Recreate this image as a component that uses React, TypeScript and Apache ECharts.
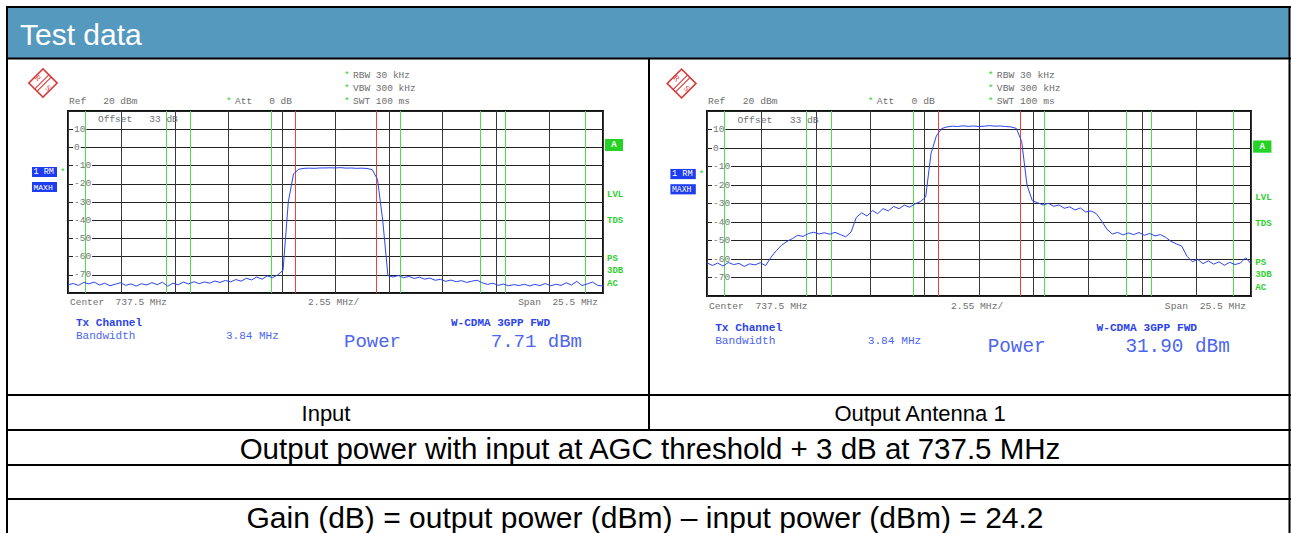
import React, { useEffect, useRef } from 'react';
import * as echarts from 'echarts';

// Sweep points: frequency offset from centre (737.5 MHz), MHz
const sweepOffsetsMHz = [
  -12.75, -12.5, -12.25, -12, -11.75, -11.5, -11.25, -11, -10.75, -10.5,
  -10.25, -10, -9.75, -9.5, -9.25, -9, -8.75, -8.5, -8.25, -8,
  -7.75, -7.5, -7.25, -7, -6.75, -6.5, -6.25, -6, -5.75, -5.5,
  -5.25, -5, -4.75, -4.5, -4.25, -4, -3.75, -3.5, -3.25, -3,
  -2.75, -2.5, -2.25, -2, -1.75, -1.5, -1.25, -1, -0.75, -0.5,
  -0.25, 0, 0.25, 0.5, 0.75, 1, 1.25, 1.5, 1.75, 2,
  2.25, 2.5, 2.75, 3, 3.25, 3.5, 3.75, 4, 4.25, 4.5,
  4.75, 5, 5.25, 5.5, 5.75, 6, 6.25, 6.5, 6.75, 7,
  7.25, 7.5, 7.75, 8, 8.25, 8.5, 8.75, 9, 9.25, 9.5,
  9.75, 10, 10.25, 10.5, 10.75, 11, 11.25, 11.5, 11.75, 12,
  12.25, 12.5, 12.75,
];

// Input trace, dBm
const inputLevels = [
  -75.5, -74.8, -75.8, -74.2, -75.0, -74.0, -75.6, -74.6, -76.0, -75.2,
  -74.4, -75.8, -75.0, -76.2, -74.9, -75.6, -74.3, -75.4, -74.1, -76.3,
  -74.6, -75.5, -74.0, -75.0, -73.8, -74.9, -73.9, -74.6, -73.4, -74.2,
  -73.1, -73.9, -72.6, -73.5, -71.9, -72.8, -71.2, -72.4, -70.6, -71.6,
  -70.0, -67.5, -30.0, -14.5, -12.0, -11.5, -11.4, -11.5, -11.3, -11.3,
  -11.2, -11.3, -11.1, -11.4, -11.3, -11.5, -11.4, -11.6, -12.2, -17.5,
  -40.0, -70.5, -71.2, -70.4, -71.6, -70.9, -72.0, -71.3, -72.4, -71.8,
  -73.0, -72.5, -73.6, -72.9, -73.8, -73.2, -74.2, -73.5, -73.0, -74.4,
  -75.3, -74.6, -75.8, -75.1, -76.0, -75.4, -75.9, -75.2, -76.1, -75.3,
  -75.9, -74.8, -76.0, -75.2, -75.8, -74.4, -75.6, -73.6, -75.9, -75.0,
  -74.0, -75.8, -76.2,
];

// Output Antenna 1 trace, dBm
const outputLevels = [
  -62.0, -63.5, -62.2, -63.8, -61.9, -63.0, -62.4, -64.0, -62.6, -63.2,
  -62.0, -63.6, -59.0, -55.5, -52.5, -50.5, -49.0, -47.2, -47.8, -46.3,
  -45.5, -46.5, -45.8, -46.6, -45.6, -46.8, -48.0, -45.5, -37.5, -35.0,
  -36.8, -33.8, -35.5, -32.8, -34.0, -31.6, -32.8, -30.9, -32.0, -30.2,
  -29.0, -26.5, -3.0, 6.5, 10.5, 11.4, 11.8, 11.6, 12.0, 11.7,
  11.9, 11.6, 11.8, 12.1, 11.8, 11.9, 11.6, 11.4, 10.6, 3.5,
  -20.0, -28.5, -29.6, -30.8, -29.9, -31.5, -30.8, -32.6, -31.8, -33.5,
  -32.4, -34.6, -34.0, -35.5, -39.5, -44.0, -46.5, -45.6, -47.0, -45.9,
  -46.8, -45.7, -47.2, -46.2, -47.5, -46.8, -48.3, -50.5, -51.8, -53.0,
  -58.5, -61.5, -60.2, -62.5, -61.0, -62.8, -61.5, -63.4, -61.8, -63.0,
  -62.2, -59.3, -62.5,
];

// Channel power limits (±1.92 MHz) and adjacent / alternate channel limits
const txChannelEdgesMHz = [-1.92, 1.92];
const adjChannelEdgesMHz = [-11.92, -8.08, -6.92, -3.08, 3.08, 6.92, 8.08, 11.92];

const panelTitles = ['Input', 'Output Antenna 1'];
const powerReadings = ['7.71 dBm', '31.90 dBm'];
const panelTraces = [inputLevels, outputLevels];

const headerText = 'Test data';
const conditionText = 'Output power with input at AGC threshold + 3 dB at 737.5 MHz';
const gainText = 'Gain (dB) = output power (dBm) \u2013 input power (dBm) = 24.2';

const PANELS = [
  { left: 68, top: 111, width: 535, height: 182, x0: 68, y0: 111, s: 1 },
  { left: 707, top: 111, width: 544, height: 185, x0: 707, y0: 112, s: 1.017 },
];

const GRAY = '#6e6e6e';
const GREEN = '#2fcf2f';
const BLUE = '#2c44ea';
const LIGHT_BLUE = '#4d66f0';

function panelGraphics(i: number): any[] {
  const p = PANELS[i];
  const X = (x: number) => p.x0 + (x - 68) * p.s;
  const Y = (y: number) => p.y0 + (y - 111) * p.s;
  const mono = (x: number, y: number, text: string, o: any = {}) => ({
    type: 'text',
    x: X(x),
    y: Y(y),
    z: 60,
    style: {
      text,
      fill: o.fill ?? GRAY,
      fontFamily: 'Liberation Mono',
      fontSize: (o.size ?? 9.5) * p.s,
      fontWeight: o.bold ? 'bold' : 'normal',
      textAlign: o.align ?? 'left',
      textVerticalAlign: 'middle',
    },
  });
  const box = (x: number, y: number, w: number, h: number, fill: string) => ({
    type: 'rect',
    z: 55,
    shape: { x: X(x), y: Y(y), width: w * p.s, height: h * p.s },
    style: { fill },
  });
  const logo = {
    type: 'group',
    x: X(43),
    y: Y(83),
    scaleX: p.s,
    scaleY: p.s,
    z: 60,
    children: [
      {
        type: 'rect',
        rotation: Math.PI / 4,
        shape: { x: -10, y: -10, width: 20, height: 20 },
        style: { fill: '#fff', stroke: '#d83a3a', lineWidth: 1.6 },
      },
      { type: 'line', shape: { x1: 8.2, y1: -5.8, x2: -5.8, y2: 8.2 }, style: { stroke: '#d83a3a', lineWidth: 1.1 } },
      { type: 'line', shape: { x1: 5.8, y1: -8.2, x2: -8.2, y2: 5.8 }, style: { stroke: '#d83a3a', lineWidth: 1.1 } },
      {
        type: 'text', x: -5, y: -5, rotation: -Math.PI / 4,
        style: { text: 'R', fill: '#d83a3a', fontFamily: 'Liberation Serif', fontSize: 8, textAlign: 'center', textVerticalAlign: 'middle' },
      },
      {
        type: 'text', x: 5, y: 5, rotation: -Math.PI / 4,
        style: { text: 'S', fill: '#d83a3a', fontFamily: 'Liberation Serif', fontSize: 8, textAlign: 'center', textVerticalAlign: 'middle' },
      },
    ],
  };
  return [
    logo,
    mono(69, 101, 'Ref   20 dBm'),
    mono(226, 101, '*', { fill: GREEN }),
    mono(235, 101, 'Att   0 dB'),
    mono(344, 75, '*', { fill: GREEN }),
    mono(353, 75, 'RBW 30 kHz'),
    mono(344, 88, '*', { fill: GREEN }),
    mono(353, 88, 'VBW 300 kHz'),
    mono(344, 101, '*', { fill: GREEN }),
    mono(353, 101, 'SWT 100 ms'),
    mono(98, 119, 'Offset   33 dB'),
    box(32, 167, 25, 10, '#1f3df0'),
    mono(33.5, 172.3, '1 RM', { fill: '#fff', size: 8.5 }),
    mono(60, 172, '*', { fill: GREEN }),
    box(32, 182, 25, 10, '#1f3df0'),
    mono(33.5, 187.3, 'MAXH', { fill: '#fff', size: 8 }),
    box(605, 139, 18, 12, '#27d227'),
    mono(614, 145.3, 'A', { fill: '#fff', bold: true, size: 9, align: 'center' }),
    mono(607, 195, 'LVL', { fill: GREEN, bold: true, size: 9 }),
    mono(607, 221, 'TDS', { fill: GREEN, bold: true, size: 9 }),
    mono(607, 259, 'PS', { fill: GREEN, bold: true, size: 9 }),
    mono(607, 271, '3DB', { fill: GREEN, bold: true, size: 9 }),
    mono(607, 284, 'AC', { fill: GREEN, bold: true, size: 9 }),
    mono(70, 302, 'Center  737.5 MHz'),
    mono(308, 302, '2.55 MHz/'),
    mono(598, 302, 'Span  25.5 MHz', { align: 'right' }),
    mono(76, 323, 'Tx Channel', { fill: BLUE, bold: true, size: 11 }),
    mono(76, 336, 'Bandwidth', { fill: LIGHT_BLUE, size: 11 }),
    mono(226, 336, '3.84 MHz', { fill: LIGHT_BLUE, size: 11 }),
    mono(451, 323, 'W-CDMA 3GPP FWD', { fill: BLUE, bold: true, size: 11 }),
    mono(344, 342, 'Power', { fill: LIGHT_BLUE, size: 19 }),
    mono(582, 342, powerReadings[i], { fill: LIGHT_BLUE, size: 19, align: 'right' }),
  ];
}

function tableGraphics(): any[] {
  const line = (x1: number, y1: number, x2: number, y2: number, w = 2) => ({
    type: 'line',
    z: 70,
    shape: { x1, y1, x2, y2 },
    style: { stroke: '#000', lineWidth: w },
  });
  const sans = (x: number, y: number, text: string, size: number, fill = '#000', align = 'center') => ({
    type: 'text',
    x,
    y,
    z: 70,
    style: { text, fill, fontFamily: 'Liberation Sans', fontSize: size, textAlign: align, textVerticalAlign: 'middle' },
  });
  return [
    { type: 'rect', z: 65, shape: { x: 7, y: 8, width: 1283, height: 50 }, style: { fill: '#5699bf' } },
    sans(20, 34, headerText, 30, '#fff', 'left'),
    line(6, 7, 1291, 7),
    line(7, 6, 7, 533),
    line(1289.5, 6, 1289.5, 533),
    line(6, 58.5, 1291, 58.5),
    line(649, 58.5, 649, 430),
    line(6, 395, 1291, 395),
    line(6, 430, 1291, 430),
    line(6, 465, 1291, 465),
    line(6, 499, 1291, 499),
    sans(326, 413, panelTitles[0], 22),
    sans(920, 413, panelTitles[1], 22),
    sans(650, 448, conditionText, 29.5),
    sans(645, 517, gainText, 30),
  ];
}

function buildOption(): any {
  const grids = PANELS.map((p) => ({
    left: p.left,
    top: p.top,
    width: p.width,
    height: p.height,
    show: true,
    borderColor: '#111',
    borderWidth: 2,
    backgroundColor: 'transparent',
  }));
  const xAxes = PANELS.map((_, i) => ({
    type: 'value',
    gridIndex: i,
    min: -12.75,
    max: 12.75,
    interval: 2.55,
    axisLine: { show: false },
    axisTick: { show: false },
    axisLabel: { show: false },
    splitLine: { show: true, lineStyle: { color: '#3a3a3a', width: 1 } },
  }));
  const yAxes = PANELS.map((_, i) => ({
    type: 'value',
    gridIndex: i,
    min: -80,
    max: 20,
    interval: 10,
    axisLine: { show: false },
    axisTick: { show: true, inside: true, length: 5, lineStyle: { color: '#333' } },
    axisLabel: {
      inside: true,
      margin: 5,
      showMinLabel: false,
      showMaxLabel: false,
      color: '#777',
      fontFamily: 'Liberation Mono',
      fontSize: 9.5,
      backgroundColor: '#fff',
      padding: [0, 1, 0, 1],
    },
    splitLine: { show: true, lineStyle: { color: '#222', width: 1 } },
  }));
  const series = panelTraces.map((levels, i) => ({
    type: 'line',
    xAxisIndex: i,
    yAxisIndex: i,
    showSymbol: false,
    symbol: 'none',
    z: 5,
    lineStyle: { color: '#2c44f0', width: 1 },
    data: sweepOffsetsMHz.map((f, k) => [f, levels[k]]),
    markLine: {
      silent: true,
      symbol: 'none',
      animation: false,
      label: { show: false },
      data: [
        ...txChannelEdgesMHz.map((v) => ({ xAxis: v, lineStyle: { color: '#ee4040', width: 1, type: 'solid' } })),
        ...adjChannelEdgesMHz.map((v) => ({ xAxis: v, lineStyle: { color: '#4ddd4d', width: 1, type: 'solid' } })),
      ],
    },
  }));
  return {
    animation: false,
    backgroundColor: '#fff',
    grid: grids,
    xAxis: xAxes,
    yAxis: yAxes,
    series,
    graphic: [...panelGraphics(0), ...panelGraphics(1), ...tableGraphics()],
  };
}

export default function App() {
  const ref = useRef<HTMLDivElement>(null);
  useEffect(() => {
    document.body.style.margin = '0';
    if (!ref.current) return;
    const chart = echarts.init(ref.current, undefined, { renderer: 'svg' });
    chart.setOption(buildOption());
    return () => chart.dispose();
  }, []);
  return <div ref={ref} style={{ width: 1291, height: 533 }} />;
}
